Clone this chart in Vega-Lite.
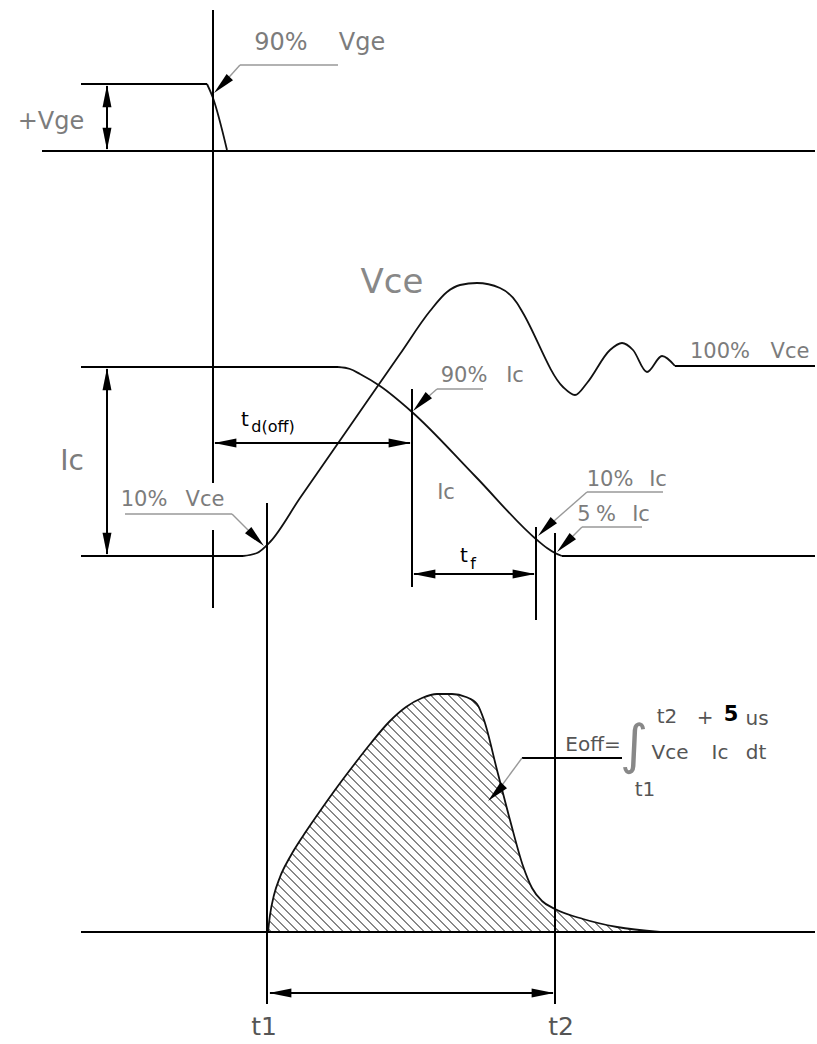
{
"$schema": "https://vega.github.io/schema/vega-lite/v6.json",
"width": 817, "height": 1044,
"autosize": {"type": "fit", "contains": "padding"},
"padding": 0,
"background": "white",
"config": {"view": {"stroke": null}},
"datasets": {
"curves": [
{"s":"vge","x":207,"y":84},{"s":"vge","x":213,"y":98},{"s":"vge","x":227,"y":150},
{"s":"vce","x":243,"y":556},{"s":"vce","x":257,"y":553},{"s":"vce","x":270,"y":542},{"s":"vce","x":300,"y":498},{"s":"vce","x":350,"y":426},{"s":"vce","x":400,"y":354},{"s":"vce","x":430,"y":311},{"s":"vce","x":447,"y":292},{"s":"vce","x":460,"y":285},{"s":"vce","x":477,"y":283},{"s":"vce","x":500,"y":288},{"s":"vce","x":517,"y":303},{"s":"vce","x":523,"y":313},{"s":"vce","x":563,"y":387},{"s":"vce","x":575,"y":395},{"s":"vce","x":587,"y":383},{"s":"vce","x":610,"y":350},{"s":"vce","x":622,"y":343},{"s":"vce","x":633,"y":350},{"s":"vce","x":647,"y":372},{"s":"vce","x":662,"y":356},{"s":"vce","x":675,"y":366},
{"s":"ic","x":338,"y":367},{"s":"ic","x":350,"y":369},{"s":"ic","x":360,"y":374},{"s":"ic","x":380,"y":386},{"s":"ic","x":412,"y":412},{"s":"ic","x":475,"y":476},{"s":"ic","x":537,"y":540},{"s":"ic","x":547,"y":548},{"s":"ic","x":555,"y":553},{"s":"ic","x":562,"y":556},
{"s":"eoff","x":268,"y":932},{"s":"eoff","x":270,"y":915},{"s":"eoff","x":274,"y":895},{"s":"eoff","x":280,"y":877},{"s":"eoff","x":290,"y":857},{"s":"eoff","x":303,"y":836},{"s":"eoff","x":318,"y":814},{"s":"eoff","x":335,"y":790},{"s":"eoff","x":353,"y":766},{"s":"eoff","x":371,"y":743},{"s":"eoff","x":389,"y":722},{"s":"eoff","x":406,"y":707},{"s":"eoff","x":422,"y":698},{"s":"eoff","x":437,"y":694},{"s":"eoff","x":452,"y":694},{"s":"eoff","x":466,"y":697},{"s":"eoff","x":477,"y":704},{"s":"eoff","x":484,"y":720},{"s":"eoff","x":497,"y":770},{"s":"eoff","x":510,"y":820},{"s":"eoff","x":523,"y":866},{"s":"eoff","x":532,"y":888},{"s":"eoff","x":542,"y":901},{"s":"eoff","x":555,"y":909},{"s":"eoff","x":583,"y":919},{"s":"eoff","x":617,"y":927},{"s":"eoff","x":660,"y":932}
],
"rules": [
{"x":213,"y":10,"x2":213,"y2":483},{"x":213,"y":530,"x2":213,"y2":608},
{"x":81,"y":84,"x2":207,"y2":84},{"x":42,"y":151,"x2":815,"y2":151},{"x":107,"y":86,"x2":107,"y2":149},
{"x":81,"y":367,"x2":338,"y2":367},{"x":81,"y":556,"x2":243,"y2":556},{"x":107,"y":369,"x2":107,"y2":554},
{"x":215,"y":443,"x2":410,"y2":443},{"x":267,"y":503,"x2":267,"y2":1004},{"x":412,"y":389,"x2":412,"y2":587},
{"x":536,"y":527,"x2":536,"y2":620},{"x":555,"y":533,"x2":555,"y2":1004},{"x":414,"y":574,"x2":534,"y2":574},
{"x":562,"y":556,"x2":815,"y2":556},{"x":675,"y":366,"x2":815,"y2":366},{"x":81,"y":932,"x2":815,"y2":932},
{"x":270,"y":993,"x2":553,"y2":993},{"x":522,"y":758,"x2":622,"y2":758}
],
"leaders": [
{"x":338,"y":65,"x2":240,"y2":65},{"x":240,"y":65,"x2":222,"y2":85},
{"x":125,"y":514,"x2":232,"y2":514},{"x":232,"y":514,"x2":256,"y2":538},
{"x":483,"y":389,"x2":437,"y2":389},{"x":437,"y":389,"x2":421,"y2":403},
{"x":663,"y":492,"x2":587,"y2":492},{"x":587,"y":492,"x2":546,"y2":528},
{"x":642,"y":527,"x2":582,"y2":527},{"x":582,"y":527,"x2":565,"y2":544},
{"x":522,"y":758,"x2":497,"y2":792}
],
"arrows": [
{"x":107,"y":85,"dir":"up"},{"x":107,"y":150,"dir":"down"},
{"x":107,"y":368,"dir":"up"},{"x":107,"y":555,"dir":"down"},
{"x":214,"y":443,"dir":"left"},{"x":411,"y":443,"dir":"right"},
{"x":413,"y":574,"dir":"left"},{"x":535,"y":574,"dir":"right"},
{"x":269,"y":993,"dir":"left"},{"x":554,"y":993,"dir":"right"},
{"x":214,"y":93,"dir":"sw"},{"x":264,"y":546,"dir":"se"},{"x":413,"y":411,"dir":"sw"},
{"x":538,"y":536,"dir":"sw"},{"x":557,"y":552,"dir":"sw"},{"x":488,"y":801,"dir":"sw"}
]
},
"encoding": {
"x": {"field":"x","type":"quantitative","scale":{"domain":[0,817],"nice":false,"zero":false},"axis":null},
"y": {"field":"y","type":"quantitative","scale":{"domain":[0,1044],"nice":false,"zero":false,"reverse":true},"axis":null}
},
"layer": [
{"data":{"name":"curves"},"transform":[{"filter":"datum.s === 'eoff'"}],
 "mark":{"type":"area","interpolate":"monotone","strokeWidth":0,
  "fill":{"gradient":"linear","x1":0,"y1":1,"x2":1.1744,"y2":0.2869,"stops":[
{"offset":0.0043,"color":"#fff"},{"offset":0.0043,"color":"#888"},{"offset":0.0076,"color":"#888"},{"offset":0.0076,"color":"#fff"},
{"offset":0.0186,"color":"#fff"},{"offset":0.0186,"color":"#888"},{"offset":0.0218,"color":"#888"},{"offset":0.0218,"color":"#fff"},
{"offset":0.0329,"color":"#fff"},{"offset":0.0329,"color":"#888"},{"offset":0.0361,"color":"#888"},{"offset":0.0361,"color":"#fff"},
{"offset":0.0471,"color":"#fff"},{"offset":0.0471,"color":"#888"},{"offset":0.0504,"color":"#888"},{"offset":0.0504,"color":"#fff"},
{"offset":0.0614,"color":"#fff"},{"offset":0.0614,"color":"#888"},{"offset":0.0647,"color":"#888"},{"offset":0.0647,"color":"#fff"},
{"offset":0.0757,"color":"#fff"},{"offset":0.0757,"color":"#888"},{"offset":0.0790,"color":"#888"},{"offset":0.0790,"color":"#fff"},
{"offset":0.0900,"color":"#fff"},{"offset":0.0900,"color":"#888"},{"offset":0.0933,"color":"#888"},{"offset":0.0933,"color":"#fff"},
{"offset":0.1043,"color":"#fff"},{"offset":0.1043,"color":"#888"},{"offset":0.1076,"color":"#888"},{"offset":0.1076,"color":"#fff"},
{"offset":0.1186,"color":"#fff"},{"offset":0.1186,"color":"#888"},{"offset":0.1218,"color":"#888"},{"offset":0.1218,"color":"#fff"},
{"offset":0.1329,"color":"#fff"},{"offset":0.1329,"color":"#888"},{"offset":0.1361,"color":"#888"},{"offset":0.1361,"color":"#fff"},
{"offset":0.1471,"color":"#fff"},{"offset":0.1471,"color":"#888"},{"offset":0.1504,"color":"#888"},{"offset":0.1504,"color":"#fff"},
{"offset":0.1614,"color":"#fff"},{"offset":0.1614,"color":"#888"},{"offset":0.1647,"color":"#888"},{"offset":0.1647,"color":"#fff"},
{"offset":0.1757,"color":"#fff"},{"offset":0.1757,"color":"#888"},{"offset":0.1790,"color":"#888"},{"offset":0.1790,"color":"#fff"},
{"offset":0.1900,"color":"#fff"},{"offset":0.1900,"color":"#888"},{"offset":0.1933,"color":"#888"},{"offset":0.1933,"color":"#fff"},
{"offset":0.2043,"color":"#fff"},{"offset":0.2043,"color":"#888"},{"offset":0.2076,"color":"#888"},{"offset":0.2076,"color":"#fff"},
{"offset":0.2186,"color":"#fff"},{"offset":0.2186,"color":"#888"},{"offset":0.2218,"color":"#888"},{"offset":0.2218,"color":"#fff"},
{"offset":0.2329,"color":"#fff"},{"offset":0.2329,"color":"#888"},{"offset":0.2361,"color":"#888"},{"offset":0.2361,"color":"#fff"},
{"offset":0.2471,"color":"#fff"},{"offset":0.2471,"color":"#888"},{"offset":0.2504,"color":"#888"},{"offset":0.2504,"color":"#fff"},
{"offset":0.2614,"color":"#fff"},{"offset":0.2614,"color":"#888"},{"offset":0.2647,"color":"#888"},{"offset":0.2647,"color":"#fff"},
{"offset":0.2757,"color":"#fff"},{"offset":0.2757,"color":"#888"},{"offset":0.2790,"color":"#888"},{"offset":0.2790,"color":"#fff"},
{"offset":0.2900,"color":"#fff"},{"offset":0.2900,"color":"#888"},{"offset":0.2933,"color":"#888"},{"offset":0.2933,"color":"#fff"},
{"offset":0.3043,"color":"#fff"},{"offset":0.3043,"color":"#888"},{"offset":0.3076,"color":"#888"},{"offset":0.3076,"color":"#fff"},
{"offset":0.3186,"color":"#fff"},{"offset":0.3186,"color":"#888"},{"offset":0.3218,"color":"#888"},{"offset":0.3218,"color":"#fff"},
{"offset":0.3329,"color":"#fff"},{"offset":0.3329,"color":"#888"},{"offset":0.3361,"color":"#888"},{"offset":0.3361,"color":"#fff"},
{"offset":0.3471,"color":"#fff"},{"offset":0.3471,"color":"#888"},{"offset":0.3504,"color":"#888"},{"offset":0.3504,"color":"#fff"},
{"offset":0.3614,"color":"#fff"},{"offset":0.3614,"color":"#888"},{"offset":0.3647,"color":"#888"},{"offset":0.3647,"color":"#fff"},
{"offset":0.3757,"color":"#fff"},{"offset":0.3757,"color":"#888"},{"offset":0.3790,"color":"#888"},{"offset":0.3790,"color":"#fff"},
{"offset":0.3900,"color":"#fff"},{"offset":0.3900,"color":"#888"},{"offset":0.3933,"color":"#888"},{"offset":0.3933,"color":"#fff"},
{"offset":0.4043,"color":"#fff"},{"offset":0.4043,"color":"#888"},{"offset":0.4076,"color":"#888"},{"offset":0.4076,"color":"#fff"},
{"offset":0.4186,"color":"#fff"},{"offset":0.4186,"color":"#888"},{"offset":0.4218,"color":"#888"},{"offset":0.4218,"color":"#fff"},
{"offset":0.4329,"color":"#fff"},{"offset":0.4329,"color":"#888"},{"offset":0.4361,"color":"#888"},{"offset":0.4361,"color":"#fff"},
{"offset":0.4471,"color":"#fff"},{"offset":0.4471,"color":"#888"},{"offset":0.4504,"color":"#888"},{"offset":0.4504,"color":"#fff"},
{"offset":0.4614,"color":"#fff"},{"offset":0.4614,"color":"#888"},{"offset":0.4647,"color":"#888"},{"offset":0.4647,"color":"#fff"},
{"offset":0.4757,"color":"#fff"},{"offset":0.4757,"color":"#888"},{"offset":0.4790,"color":"#888"},{"offset":0.4790,"color":"#fff"},
{"offset":0.4900,"color":"#fff"},{"offset":0.4900,"color":"#888"},{"offset":0.4933,"color":"#888"},{"offset":0.4933,"color":"#fff"},
{"offset":0.5043,"color":"#fff"},{"offset":0.5043,"color":"#888"},{"offset":0.5076,"color":"#888"},{"offset":0.5076,"color":"#fff"},
{"offset":0.5186,"color":"#fff"},{"offset":0.5186,"color":"#888"},{"offset":0.5218,"color":"#888"},{"offset":0.5218,"color":"#fff"},
{"offset":0.5329,"color":"#fff"},{"offset":0.5329,"color":"#888"},{"offset":0.5361,"color":"#888"},{"offset":0.5361,"color":"#fff"},
{"offset":0.5471,"color":"#fff"},{"offset":0.5471,"color":"#888"},{"offset":0.5504,"color":"#888"},{"offset":0.5504,"color":"#fff"},
{"offset":0.5614,"color":"#fff"},{"offset":0.5614,"color":"#888"},{"offset":0.5647,"color":"#888"},{"offset":0.5647,"color":"#fff"},
{"offset":0.5757,"color":"#fff"},{"offset":0.5757,"color":"#888"},{"offset":0.5790,"color":"#888"},{"offset":0.5790,"color":"#fff"},
{"offset":0.5900,"color":"#fff"},{"offset":0.5900,"color":"#888"},{"offset":0.5933,"color":"#888"},{"offset":0.5933,"color":"#fff"},
{"offset":0.6043,"color":"#fff"},{"offset":0.6043,"color":"#888"},{"offset":0.6076,"color":"#888"},{"offset":0.6076,"color":"#fff"},
{"offset":0.6186,"color":"#fff"},{"offset":0.6186,"color":"#888"},{"offset":0.6218,"color":"#888"},{"offset":0.6218,"color":"#fff"},
{"offset":0.6329,"color":"#fff"},{"offset":0.6329,"color":"#888"},{"offset":0.6361,"color":"#888"},{"offset":0.6361,"color":"#fff"},
{"offset":0.6471,"color":"#fff"},{"offset":0.6471,"color":"#888"},{"offset":0.6504,"color":"#888"},{"offset":0.6504,"color":"#fff"},
{"offset":0.6614,"color":"#fff"},{"offset":0.6614,"color":"#888"},{"offset":0.6647,"color":"#888"},{"offset":0.6647,"color":"#fff"},
{"offset":0.6757,"color":"#fff"},{"offset":0.6757,"color":"#888"},{"offset":0.6790,"color":"#888"},{"offset":0.6790,"color":"#fff"},
{"offset":0.6900,"color":"#fff"},{"offset":0.6900,"color":"#888"},{"offset":0.6933,"color":"#888"},{"offset":0.6933,"color":"#fff"},
{"offset":0.7043,"color":"#fff"},{"offset":0.7043,"color":"#888"},{"offset":0.7076,"color":"#888"},{"offset":0.7076,"color":"#fff"},
{"offset":0.7186,"color":"#fff"},{"offset":0.7186,"color":"#888"},{"offset":0.7218,"color":"#888"},{"offset":0.7218,"color":"#fff"},
{"offset":0.7329,"color":"#fff"},{"offset":0.7329,"color":"#888"},{"offset":0.7361,"color":"#888"},{"offset":0.7361,"color":"#fff"},
{"offset":0.7471,"color":"#fff"},{"offset":0.7471,"color":"#888"},{"offset":0.7504,"color":"#888"},{"offset":0.7504,"color":"#fff"},
{"offset":0.7614,"color":"#fff"},{"offset":0.7614,"color":"#888"},{"offset":0.7647,"color":"#888"},{"offset":0.7647,"color":"#fff"},
{"offset":0.7757,"color":"#fff"},{"offset":0.7757,"color":"#888"},{"offset":0.7790,"color":"#888"},{"offset":0.7790,"color":"#fff"},
{"offset":0.7900,"color":"#fff"},{"offset":0.7900,"color":"#888"},{"offset":0.7933,"color":"#888"},{"offset":0.7933,"color":"#fff"},
{"offset":0.8043,"color":"#fff"},{"offset":0.8043,"color":"#888"},{"offset":0.8076,"color":"#888"},{"offset":0.8076,"color":"#fff"},
{"offset":0.8186,"color":"#fff"},{"offset":0.8186,"color":"#888"},{"offset":0.8218,"color":"#888"},{"offset":0.8218,"color":"#fff"},
{"offset":0.8329,"color":"#fff"},{"offset":0.8329,"color":"#888"},{"offset":0.8361,"color":"#888"},{"offset":0.8361,"color":"#fff"},
{"offset":0.8471,"color":"#fff"},{"offset":0.8471,"color":"#888"},{"offset":0.8504,"color":"#888"},{"offset":0.8504,"color":"#fff"},
{"offset":0.8614,"color":"#fff"},{"offset":0.8614,"color":"#888"},{"offset":0.8647,"color":"#888"},{"offset":0.8647,"color":"#fff"},
{"offset":0.8757,"color":"#fff"},{"offset":0.8757,"color":"#888"},{"offset":0.8790,"color":"#888"},{"offset":0.8790,"color":"#fff"},
{"offset":0.8900,"color":"#fff"},{"offset":0.8900,"color":"#888"},{"offset":0.8933,"color":"#888"},{"offset":0.8933,"color":"#fff"},
{"offset":0.9043,"color":"#fff"},{"offset":0.9043,"color":"#888"},{"offset":0.9076,"color":"#888"},{"offset":0.9076,"color":"#fff"},
{"offset":0.9186,"color":"#fff"},{"offset":0.9186,"color":"#888"},{"offset":0.9218,"color":"#888"},{"offset":0.9218,"color":"#fff"},
{"offset":0.9329,"color":"#fff"},{"offset":0.9329,"color":"#888"},{"offset":0.9361,"color":"#888"},{"offset":0.9361,"color":"#fff"},
{"offset":0.9471,"color":"#fff"},{"offset":0.9471,"color":"#888"},{"offset":0.9504,"color":"#888"},{"offset":0.9504,"color":"#fff"},
{"offset":0.9614,"color":"#fff"},{"offset":0.9614,"color":"#888"},{"offset":0.9647,"color":"#888"},{"offset":0.9647,"color":"#fff"},
{"offset":0.9757,"color":"#fff"},{"offset":0.9757,"color":"#888"},{"offset":0.9790,"color":"#888"},{"offset":0.9790,"color":"#fff"},
{"offset":0.9900,"color":"#fff"},{"offset":0.9900,"color":"#888"},{"offset":0.9933,"color":"#888"},{"offset":0.9933,"color":"#fff"}
]}},
 "encoding":{"y2":{"datum":932}}},
{"data":{"name":"curves"},"mark":{"type":"line","interpolate":"monotone","color":"#111","strokeWidth":1.8},"encoding":{"detail":{"field":"s"}}},
{"data":{"name":"rules"},"mark":{"type":"rule","color":"#000","strokeWidth":2},"encoding":{"x2":{"field":"x2"},"y2":{"field":"y2"}}},
{"data":{"name":"leaders"},"mark":{"type":"rule","color":"#999","strokeWidth":1.4},"encoding":{"x2":{"field":"x2"},"y2":{"field":"y2"}}},
{"data":{"name":"arrows"},"mark":{"type":"point","filled":true,"size":500,"color":"#000","opacity":1,"strokeWidth":0},
 "encoding":{"shape":{"field":"dir","type":"nominal","legend":null,"scale":{"domain":["up","down","left","right","sw","se"],"range":["M0,0L0.4,2L-0.4,2Z","M0,0L0.4,-2L-0.4,-2Z","M0,0L2,0.4L2,-0.4Z","M0,0L-2,0.4L-2,-0.4Z","M0,0L1.7,-1.13L1.13,-1.7Z","M0,0L-1.13,-1.7L-1.7,-1.13Z"]}}}},
{"data":{"values":[{"t":"90%","x":281,"y":43},{"t":"Vge","x":362,"y":43},{"t":"+Vge","x":51,"y":122}]},
 "mark":{"type":"text","font":"DejaVu Sans","fontSize":24,"color":"#7c7c7c","align":"center","baseline":"middle"},"encoding":{"text":{"field":"t"}}},
{"data":{"values":[{"t":"10%","x":144,"y":500},{"t":"Vce","x":205,"y":500},{"t":"90%","x":464,"y":376},{"t":"Ic","x":515,"y":376},{"t":"100%","x":720,"y":352},{"t":"Vce","x":790,"y":352},{"t":"Ic","x":446,"y":493},{"t":"10%","x":610,"y":480},{"t":"Ic","x":658,"y":480},{"t":"5","x":584,"y":515},{"t":"%","x":606,"y":515},{"t":"Ic","x":641,"y":515}]},
 "mark":{"type":"text","font":"DejaVu Sans","fontSize":21,"color":"#7c7c7c","align":"center","baseline":"middle"},"encoding":{"text":{"field":"t"}}},
{"data":{"values":[{"t":"Vce","x":392,"y":283}]},
 "mark":{"type":"text","font":"DejaVu Sans","fontSize":34,"color":"#888","align":"center","baseline":"middle"},"encoding":{"text":{"field":"t"}}},
{"data":{"values":[{"t":"Ic","x":72,"y":462}]},
 "mark":{"type":"text","font":"DejaVu Sans","fontSize":28,"color":"#7c7c7c","align":"center","baseline":"middle"},"encoding":{"text":{"field":"t"}}},
{"data":{"values":[{"t":"t","x":245,"y":420},{"t":"t","x":464,"y":556}]},
 "mark":{"type":"text","font":"DejaVu Sans","fontSize":20,"color":"#000","align":"center","baseline":"middle"},"encoding":{"text":{"field":"t"}}},
{"data":{"values":[{"t":"d(off)","x":273,"y":427},{"t":"f","x":473,"y":564}]},
 "mark":{"type":"text","font":"DejaVu Sans","fontSize":16,"color":"#000","align":"center","baseline":"middle"},"encoding":{"text":{"field":"t"}}},
{"data":{"values":[{"t":"Eoff=","x":593,"y":745},{"t":"t2","x":667,"y":717},{"t":"+","x":705,"y":718},{"t":"us","x":757,"y":719},{"t":"Vce","x":670,"y":753},{"t":"Ic","x":720,"y":753},{"t":"dt","x":756,"y":753},{"t":"t1","x":645,"y":790}]},
 "mark":{"type":"text","font":"DejaVu Sans","fontSize":20,"color":"#555","align":"center","baseline":"middle"},"encoding":{"text":{"field":"t"}}},
{"data":{"values":[{"t":"5","x":731,"y":715}]},
 "mark":{"type":"text","font":"DejaVu Sans","fontSize":21,"fontWeight":"bold","color":"#000","align":"center","baseline":"middle"},"encoding":{"text":{"field":"t"}}},
{"data":{"values":[{"t":"∫","x":634,"y":747}]},
 "mark":{"type":"text","font":"DejaVu Sans","fontSize":54,"color":"#888","align":"center","baseline":"middle"},"encoding":{"text":{"field":"t"}}},
{"data":{"values":[{"t":"t1","x":264,"y":1027},{"t":"t2","x":561,"y":1027}]},
 "mark":{"type":"text","font":"DejaVu Sans","fontSize":25,"color":"#555","align":"center","baseline":"middle"},"encoding":{"text":{"field":"t"}}}
]
}
